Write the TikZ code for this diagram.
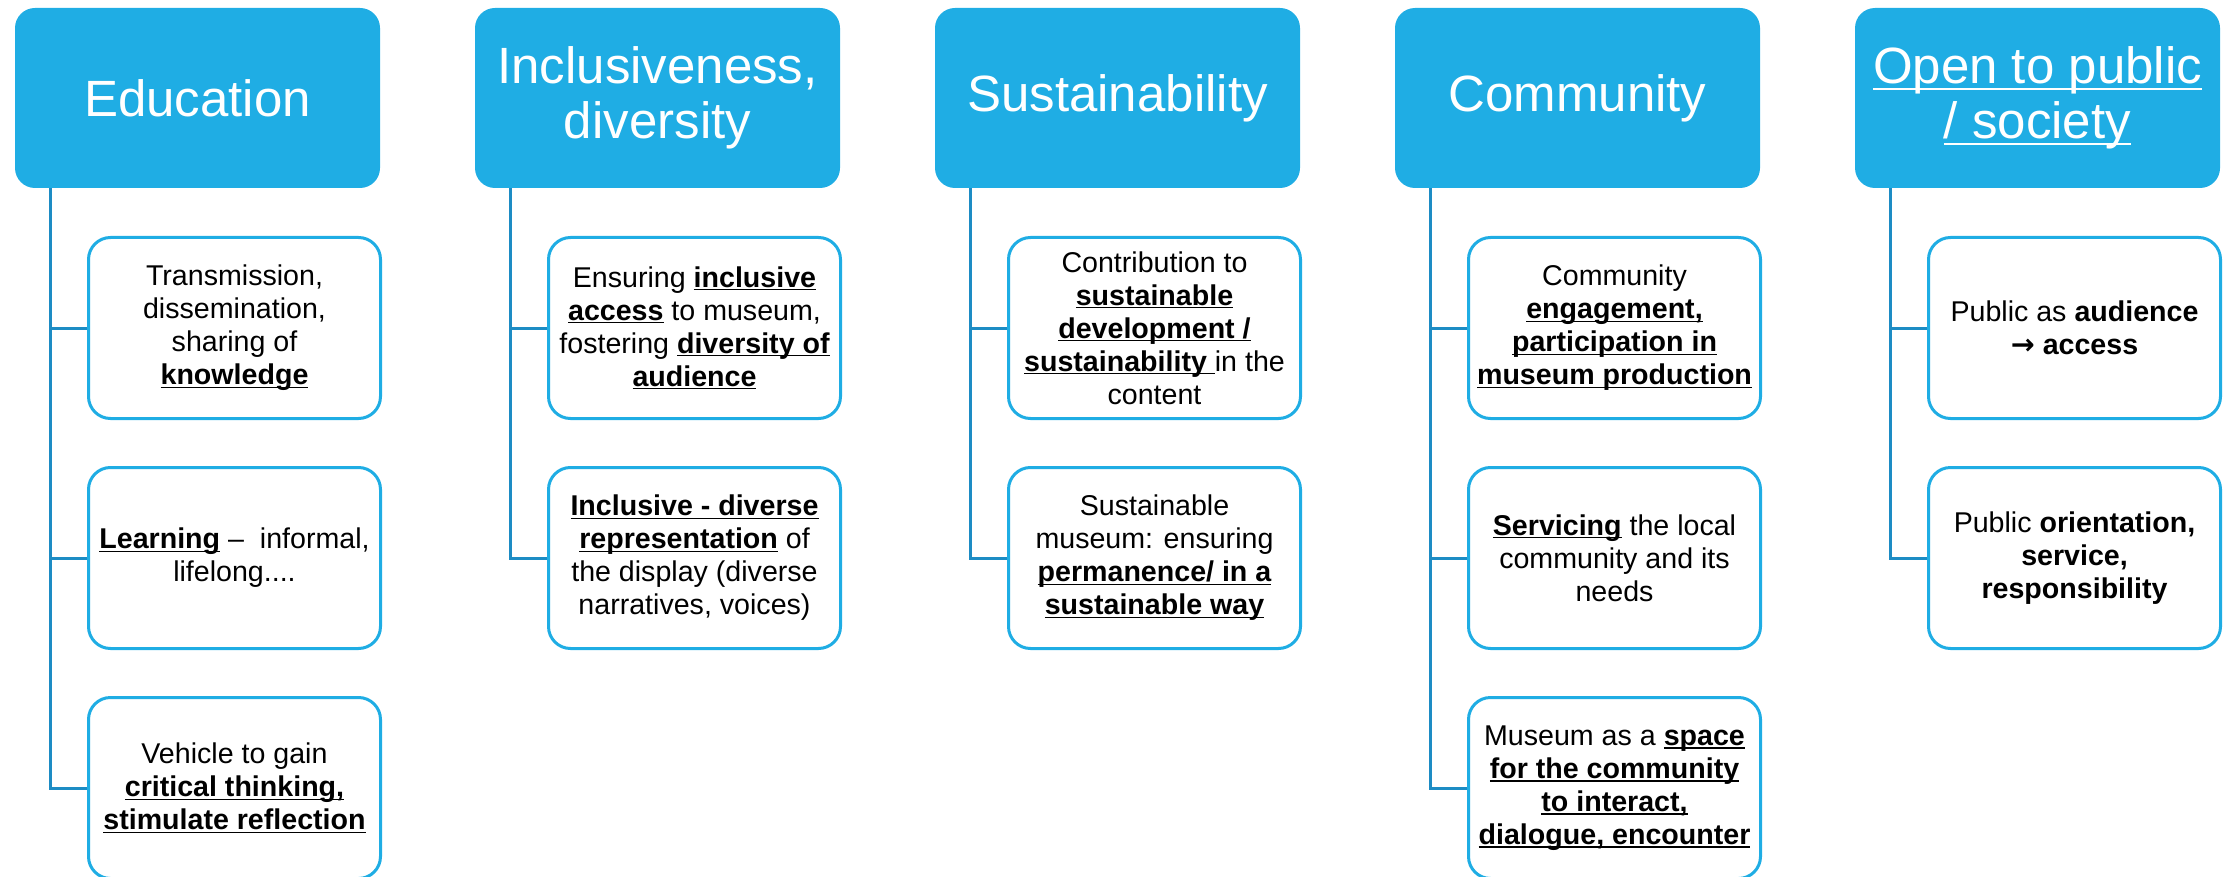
\documentclass[tikz,border=0pt]{standalone}
\usepackage{fontspec}
\setmainfont{Liberation Sans}
\newfontfamily\dejavu{DejaVu Sans}
\usetikzlibrary{calc}
\definecolor{hdr}{HTML}{1FADE4}
\definecolor{connc}{HTML}{1D8CC4}
\newcommand\ulx[1]{\setbox0=\hbox{#1}\rlap{\rule[-1.6pt]{\wd0}{0.7pt}}\box0}
\newcommand\ub[1]{\textbf{\ulx{#1}}}
\newcommand\ulw[1]{\setbox0=\hbox{#1}\rlap{\rule[-3.2pt]{\wd0}{1pt}}\box0}
\begin{document}
\begin{tikzpicture}[x=0.5pt,y=-0.5pt,
  header/.style={fill=hdr, draw=none, rounded corners=10pt, minimum width=182.5pt,
    minimum height=90pt, inner sep=0pt, text=white, align=center,
    font=\fontsize{25.5pt}{27.5pt}\selectfont},
  child/.style={draw=hdr, line width=1.5pt, fill=white, rounded corners=11pt,
    minimum width=146pt, minimum height=90.5pt, inner sep=0pt, align=center,
    font=\fontsize{14.3pt}{16.5pt}\selectfont},
  link/.style={draw=connc, line width=1.5pt}]
\useasboundingbox (0,0) rectangle (2226,877);

% headers
\node[header] (h1) at (197.5,98) {Education};
\node[header] (h2) at (657.5,98) {Inclusiveness,\\diversity};
\node[header] (h3) at (1117.5,98) {Sustainability};
\node[header] (h4) at (1577.5,98) {Community};
\node[header] (h5) at (2037.5,98) {\ulw{Open to public}\\\ulw{/ society}};

% column 1
\node[child] (c11) at (234.5,328) {Transmission,\\dissemination,\\sharing of\\\ub{knowledge}};
\node[child] (c12) at (234.5,558) {\ub{Learning} -- \ informal,\\lifelong....};
\node[child] (c13) at (234.5,788) {Vehicle to gain\\\ub{critical thinking,}\\\ub{stimulate reflection}};
% column 2
\node[child] (c21) at (694.5,328) {Ensuring \ub{inclusive}\\\ub{access} to museum,\\fostering \ub{diversity of}\\\ub{audience}};
\node[child] (c22) at (694.5,558) {\ub{Inclusive - diverse}\\\ub{representation} of\\the display (diverse\\narratives, voices)};
% column 3
\node[child] (c31) at (1154.5,328) {Contribution to\\\ub{sustainable}\\\ub{development /}\\\ub{sustainability }in the\\content};
\node[child] (c32) at (1154.5,558) {Sustainable\\museum: ensuring\\\ub{permanence/ in a}\\\ub{sustainable way}};
% column 4
\node[child] (c41) at (1614.5,328) {Community\\\ub{engagement,}\\\ub{participation in}\\\ub{museum production}};
\node[child] (c42) at (1614.5,558) {\ub{Servicing} the local\\community and its\\needs};
\node[child] (c43) at (1614.5,788) {Museum as a \ub{space}\\\ub{for the community}\\\ub{to interact,}\\\ub{dialogue, encounter}};
% column 5
\node[child] (c51) at (2074.5,328) {Public as \textbf{audience}\\{\dejavu\bfseries →} \textbf{access}};
\node[child] (c52) at (2074.5,558) {Public \textbf{orientation,}\\\textbf{service,}\\\textbf{responsibility}};

% connectors
\coordinate (t1) at ($(h1.south west)+(36,0)$);
\coordinate (t2) at ($(h2.south west)+(36,0)$);
\coordinate (t3) at ($(h3.south west)+(36,0)$);
\coordinate (t4) at ($(h4.south west)+(36,0)$);
\coordinate (t5) at ($(h5.south west)+(36,0)$);

\draw[link] (t1) |- (c13.west);
\draw[link] (t1 |- c11.west) -- (c11.west);
\draw[link] (t1 |- c12.west) -- (c12.west);

\draw[link] (t2) |- (c22.west);
\draw[link] (t2 |- c21.west) -- (c21.west);

\draw[link] (t3) |- (c32.west);
\draw[link] (t3 |- c31.west) -- (c31.west);

\draw[link] (t4) |- (c43.west);
\draw[link] (t4 |- c41.west) -- (c41.west);
\draw[link] (t4 |- c42.west) -- (c42.west);

\draw[link] (t5) |- (c52.west);
\draw[link] (t5 |- c51.west) -- (c51.west);
\end{tikzpicture}
\end{document}
